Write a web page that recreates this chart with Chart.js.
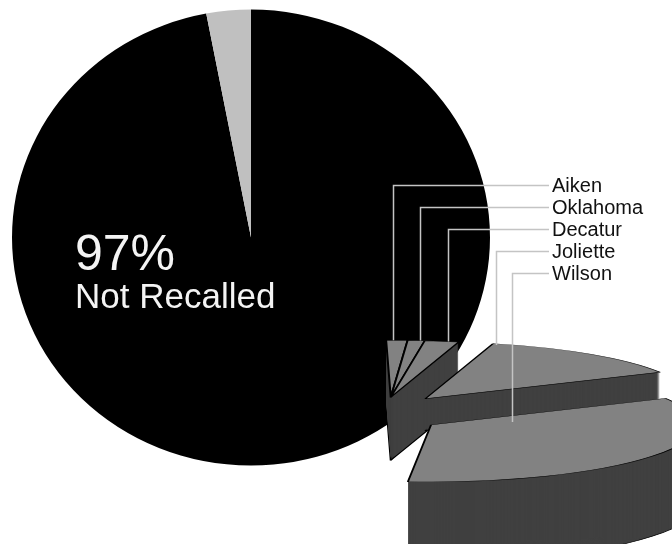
<!DOCTYPE html>
<html>
<head>
<meta charset="utf-8">
<script src="https://cdn.jsdelivr.net/npm/chart.js@4.4.0/dist/chart.umd.min.js"></script>
<style>
  html, body { margin: 0; padding: 0; background: #fff; }
  #wrap { position: relative; width: 672px; height: 544px; overflow: hidden; }
  canvas { position: absolute; left: 0; top: 0; }
</style>
</head>
<body>
<div id="wrap">
  <canvas id="mainPie" width="672" height="544"></canvas>
  <canvas id="detailPie" width="672" height="544"></canvas>
</div>
<script>
// main pie
const mainLabels = ["Not Recalled", "Recalled"];
const mainValues = [97, 3];

// breakdown of the recalled 3%
const detailLabels = ["Aiken", "Oklahoma", "Decatur", "Joliette", "Wilson"];
const detailValues = [2.5, 2.0, 4.0, 25.5, 66.0];

const TOP = "#828282", SIDE = "#404040", LEADER = "#c4c4c4";
const FONT = '"Liberation Sans", Arial, sans-serif';

// fake 3d look for the breakdown
const K = 0.215;                 // vertical squash
const groups = [0, 0, 0, 1, 2];  // slices in one group are pulled out together
const explode = [[60, 0], [67, 0], [84, 22]];  // pull-out per group: [distance, extra turn in deg]
const depth = [63, 63, 63, 32, 80];  // side height per slice
const anchors = [[0.3, 1], [0.7, 1], [0.7, 1], [0.02, 0.98], [0.15, 0.31]]; // leader end: [angle frac, radius frac]

function squash(ctx, c, k) {
  ctx.translate(c.x, c.y);
  ctx.scale(1, k);
  ctx.translate(-c.x, -c.y);
}

function withOptions(arc, patch, fn) {
  const saved = arc.options;
  arc.options = Object.assign({}, saved, patch);
  fn();
  arc.options = saved;
}

const mainTilt = {
  id: "mainTilt",
  afterDatasetUpdate(chart) {
    const a = chart.getDatasetMeta(0).data[0];
    chart.$c = { x: a.x, y: a.y };
  },
  beforeDatasetsDraw(chart) {
    chart.ctx.save();
    squash(chart.ctx, chart.$c, 0.954);
  },
  afterDatasetsDraw(chart) {
    const ctx = chart.ctx;
    ctx.restore();
    ctx.fillStyle = "#f4f4f4";
    ctx.textAlign = "left";
    ctx.textBaseline = "alphabetic";
    ctx.font = "50px " + FONT;
    ctx.fillText(mainValues[0] + "%", 75, 270);
    ctx.font = "35px " + FONT;
    ctx.fillText(mainLabels[0], 75, 308);
  }
};

const detailTilt = {
  id: "detailTilt",
  afterDatasetUpdate(chart) {
    const arcs = chart.getDatasetMeta(0).data;
    chart.$c = { x: arcs[0].x, y: arcs[0].y };
    // direction of each group = middle of its combined span
    const span = {};
    arcs.forEach((a, i) => {
      const g = groups[i];
      if (!span[g]) span[g] = [a.startAngle, a.endAngle];
      span[g][1] = a.endAngle;
    });
    arcs.forEach((a, i) => {
      const g = groups[i];
      const [dist, turn] = explode[g];
      const m = (span[g][0] + span[g][1]) / 2 + turn * Math.PI / 180;
      a.x += Math.cos(m) * dist;
      a.y += Math.sin(m) * dist;
    });
  },
  beforeDatasetsDraw(chart) {
    const ctx = chart.ctx, c = chart.$c;
    chart.getDatasetMeta(0).data.forEach((arc, i) => {
      for (let d = depth[i]; d >= 1; d--) {
        const patch = { backgroundColor: SIDE, borderColor: "#000", borderWidth: d === depth[i] ? 2 : 0 };
        withOptions(arc, patch, () => {
          ctx.save();
          ctx.translate(0, d);
          squash(ctx, c, K);
          arc.draw(ctx);
          ctx.restore();
        });
      }
    });
    ctx.save();
    squash(ctx, c, K);
  },
  afterDatasetsDraw(chart) {
    const ctx = chart.ctx, c = chart.$c;
    ctx.restore();
    const arcs = chart.getDatasetMeta(0).data;
    ctx.font = "20px " + FONT;
    ctx.textAlign = "left";
    ctx.textBaseline = "alphabetic";
    arcs.forEach((a, i) => {
      const [t, f] = anchors[i];
      const ang = a.startAngle + (a.endAngle - a.startAngle) * t;
      const px = Math.round(a.x + Math.cos(ang) * a.outerRadius * f) + 0.5;
      const py = c.y + (a.y + Math.sin(ang) * a.outerRadius * f - c.y) * K;
      const ty = 192 + i * 22;
      ctx.strokeStyle = LEADER;
      ctx.lineWidth = 1.5;
      ctx.beginPath();
      ctx.moveTo(549, ty - 6.5);
      ctx.lineTo(px, ty - 6.5);
      ctx.lineTo(px, py);
      ctx.stroke();
      ctx.fillStyle = "#111";
      ctx.fillText(detailLabels[i], 552, ty);
    });
  }
};

new Chart(document.getElementById("mainPie"), {
  type: "pie",
  data: {
    labels: mainLabels,
    datasets: [{ data: mainValues, backgroundColor: ["#000000", "#c0c0c0"], borderWidth: 0, clip: false }]
  },
  options: {
    responsive: false,
    animation: false,
    events: [],
    radius: 239,
    layout: { padding: { right: 170, bottom: 69 } },
    plugins: { legend: { display: false }, tooltip: { enabled: false } }
  },
  plugins: [mainTilt]
});

new Chart(document.getElementById("detailPie"), {
  type: "pie",
  data: {
    labels: detailLabels,
    datasets: [{ data: detailValues, backgroundColor: TOP, borderColor: "#000", borderWidth: 2, clip: false }]
  },
  options: {
    responsive: false,
    animation: false,
    events: [],
    rotation: -1,
    circumference: 186,
    radius: 265,
    layout: { padding: { left: 337, top: 276 } },
    plugins: { legend: { display: false }, tooltip: { enabled: false } }
  },
  plugins: [detailTilt]
});
</script>
</body>
</html>
